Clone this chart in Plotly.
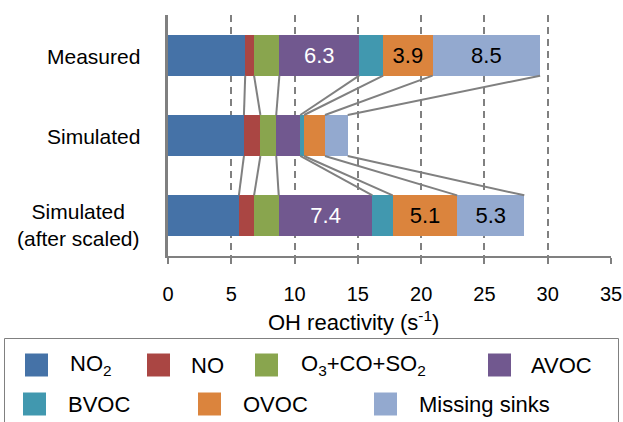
import plotly.graph_objects as go

# ---------------- data ----------------
categories = ["Measured", "Simulated", "Simulated<br>(after scaled)"]
series_names = ["NO<sub>2</sub>", "NO", "O<sub>3</sub>+CO+SO<sub>2</sub>", "AVOC", "BVOC", "OVOC", "Missing sinks"]
series_colors = ["#4572A7", "#AA4643", "#89A54E", "#71588F", "#4198AF", "#DB843D", "#93A9CF"]

no2 = [6.1, 6.0, 5.6]
no = [0.7, 1.3, 1.2]
o3_co_so2 = [2.0, 1.25, 1.95]
avoc = [6.3, 1.9, 7.4]
bvoc = [1.9, 0.3, 1.6]
ovoc = [3.9, 1.65, 5.1]
missing = [8.5, 1.8, 5.3]

# which segments carry a value label, and the label colour
label_shown = {3: [True, False, True], 5: [True, False, True], 6: [True, False, True]}
label_color = {3: "white", 5: "black", 6: "black"}

x_ticks = [0, 5, 10, 15, 20, 25, 30, 35]
x_title = "OH reactivity (s<sup>-1</sup>)"

all_series = [no2, no, o3_co_so2, avoc, bvoc, ovoc, missing]

# ---------------- layout geometry ----------------
W, H = 623, 422
ML, MR, MT, MB = 168, 12, 15, 166
PW = W - ML - MR
PH = H - MT - MB
BAR_W = 0.51
GRAY = "#808080"
FONT = "Liberation Sans, Arial, sans-serif"


def px2x(px):
    return (px - ML) / PW


def py2y(py):
    return (H - MB - py) / PH


fig = go.Figure()

# connector lines between cumulative segment ends of consecutive bars
cums = []
for i in range(len(categories)):
    c, s = [], 0.0
    for ser in all_series:
        s += ser[i]
        c.append(s)
    cums.append(c)

lx, ly = [], []
for i in range(len(categories) - 1):
    for k in range(len(all_series)):
        lx += [cums[i][k], cums[i + 1][k], None]
        ly += [i + BAR_W / 2, i + 1 - BAR_W / 2, None]
fig.add_trace(go.Scatter(x=lx, y=ly, mode="lines", line=dict(color=GRAY, width=2),
                         hoverinfo="skip", showlegend=False))

# stacked bars
for k, (name, vals, col) in enumerate(zip(series_names, all_series, series_colors)):
    if k in label_shown:
        txt = [f"{v:.1f}" if show else "" for v, show in zip(vals, label_shown[k])]
        tcol = label_color[k]
    else:
        txt = [""] * len(vals)
        tcol = "black"
    fig.add_trace(go.Bar(
        y=list(range(len(categories))), x=vals, orientation="h", name=name,
        marker=dict(color=col, line=dict(width=0)), width=BAR_W,
        text=txt, textposition="inside", insidetextanchor="middle",
        textangle=0, textfont=dict(size=22, color=tcol, family=FONT),
        showlegend=False,
    ))

fig.update_layout(
    width=W, height=H, barmode="stack",
    margin=dict(l=ML, r=MR, t=MT, b=MB, pad=0, autoexpand=False),
    paper_bgcolor="white", plot_bgcolor="white",
    font=dict(family=FONT, size=20, color="black"),
    showlegend=False,
    uniformtext=dict(minsize=8, mode="show"),
)
fig.update_xaxes(
    range=[0, 35], tickvals=x_ticks, ticktext=[str(t) for t in x_ticks],
    showgrid=True, gridcolor=GRAY, gridwidth=2, griddash="7px,5px",
    showline=True, linecolor=GRAY, linewidth=2,
    ticks="outside", ticklen=6, tickwidth=2, tickcolor=GRAY,
    tickfont=dict(size=20, color="black"), ticklabelstandoff=13,
    zeroline=False, automargin=False,
)
fig.update_yaxes(
    range=[2.5, -0.5], showgrid=False, zeroline=False,
    showline=True, linecolor=GRAY, linewidth=2.5,
    showticklabels=False, ticks="", automargin=False,
)

annotations = []
# category labels
yshifts = [-1, -1, -9]
for i, cat in enumerate(categories):
    annotations.append(dict(x=px2x(142), y=i, xref="paper", yref="y", text=cat,
                            showarrow=False, xanchor="right", yanchor="middle",
                            align="center", yshift=yshifts[i],
                            font=dict(size=21, color="black", family=FONT)))
# axis title
annotations.append(dict(x=px2x(353), y=py2y(321), xref="paper", yref="paper", text=x_title,
                        showarrow=False, xanchor="center", yanchor="middle",
                        font=dict(size=22, color="black", family=FONT)))

# legend box and entries
shapes = [dict(type="rect", xref="paper", yref="paper",
               x0=px2x(4.5), x1=px2x(618.5), y0=py2y(440), y1=py2y(338.5),
               line=dict(color=GRAY, width=1), fillcolor="rgba(0,0,0,0)")]
legend_pos = [(25, 68, 365), (147, 189, 365), (255, 299, 365), (488, 529, 365),
              (23, 66, 404), (198, 241, 404), (374, 417, 404)]
for (sx, tx, cy), name, col in zip(legend_pos, series_names, series_colors):
    shapes.append(dict(type="rect", xref="paper", yref="paper",
                       x0=px2x(sx), x1=px2x(sx + 23), y0=py2y(cy + 11.5), y1=py2y(cy - 11.5),
                       line=dict(width=0), fillcolor=col))
    annotations.append(dict(x=px2x(tx), y=py2y(cy), xref="paper", yref="paper", text=name,
                            showarrow=False, xanchor="left", yanchor="middle",
                            font=dict(size=22, color="black", family=FONT)))

fig.update_layout(annotations=annotations, shapes=shapes)

fig.write_html("out.html", config={"displayModeBar": False},
               post_script="document.body.style.margin='0';document.body.style.overflow='hidden';")
